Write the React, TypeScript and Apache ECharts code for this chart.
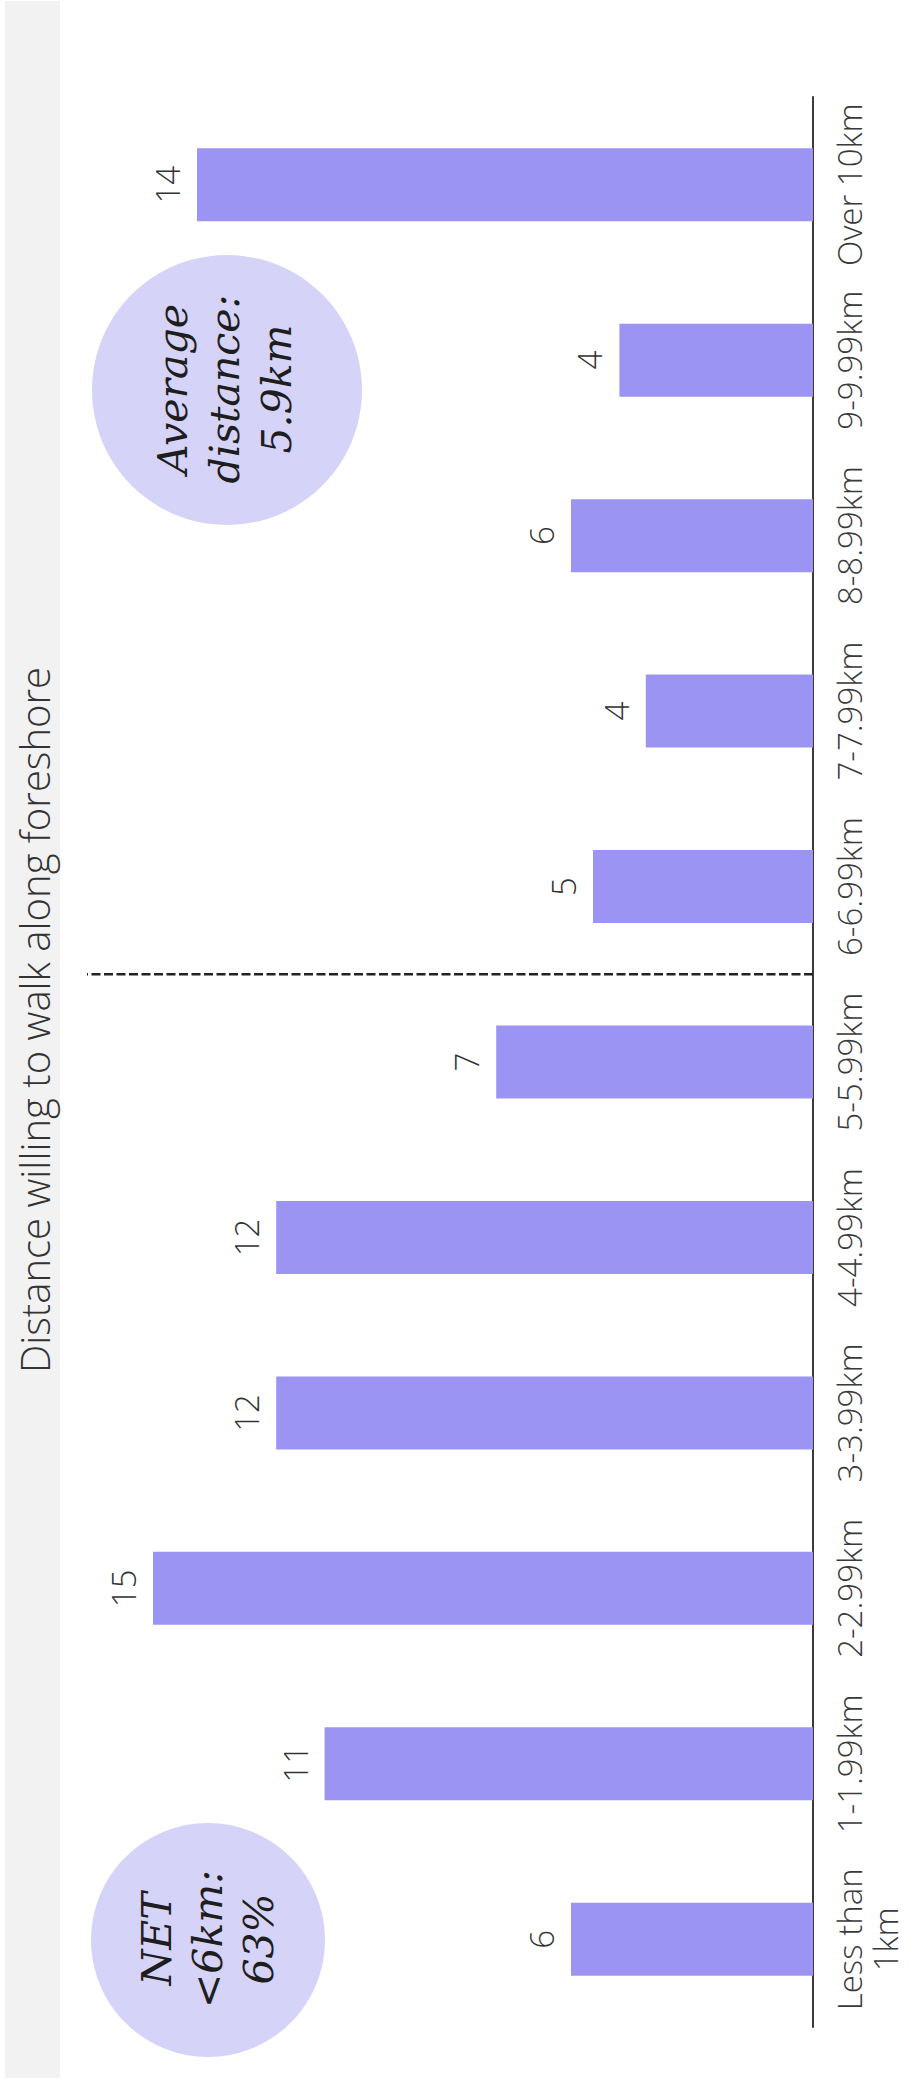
import React, { useEffect, useRef } from "react";
import * as echarts from "echarts";

// Categories listed bottom-to-top (as they appear in the rotated chart)
const categories = [
  "Less than\n1km",
  "1-1.99km",
  "2-2.99km",
  "3-3.99km",
  "4-4.99km",
  "5-5.99km",
  "6-6.99km",
  "7-7.99km",
  "8-8.99km",
  "9-9.99km",
  "Over 10km",
];
// Share of respondents (%)
const shares = [5.5, 11.1, 15.0, 12.2, 12.2, 7.2, 5.0, 3.8, 5.5, 4.4, 14.0];
// Reference line between "5-5.99km" and "6-6.99km" (category index position)
const dividerPosition = [5.5];
const valueMax = 16.5;

const titleText = "Distance willing to walk along foreshore";
const averageText = "Average\ndistance:\n5.9km";
const netText = "NET\n<6km:\n63%";

const SANS = "'Open Sans', 'DejaVu Sans', sans-serif";
const SERIF = "'DejaVu Serif', serif";

export default function App() {
  const ref = useRef<HTMLDivElement>(null);

  useEffect(() => {
    if (!ref.current) return;
    const chart = echarts.init(ref.current, null, { renderer: "svg" });
    const option: any = {
      animation: false,
      backgroundColor: "#ffffff",
      grid: { left: 87, right: 96, top: 97, bottom: 63, containLabel: false },
      xAxis: [
        { type: "value", inverse: true, min: 0, max: valueMax, show: false },
      ],
      yAxis: [
        {
          type: "category",
          position: "right",
          data: categories,
          axisLine: { show: true, lineStyle: { color: "#3a3a3a", width: 2 } },
          axisTick: { show: false },
          splitLine: { show: false },
          axisLabel: {
            interval: 0,
            rotate: 90,
            margin: 18,
            fontSize: 33,
            lineHeight: 36,
            fontWeight: 300,
            fontFamily: SANS,
            color: "#3a3a3a",
          },
        },
        { type: "value", min: -0.5, max: categories.length - 0.5, show: false },
      ],
      series: [
        {
          type: "bar",
          data: shares,
          barWidth: "41.6%",
          itemStyle: { color: "#9b94f3" },
          label: {
            show: true,
            position: "left",
            distance: 13,
            rotate: 90,
            align: "center",
            verticalAlign: "bottom",
            fontSize: 33,
            fontWeight: 300,
            fontFamily: SANS,
            color: "#333333",
            formatter: (p: any) => String(Math.round(p.value)),
          },
        },
        {
          type: "line",
          xAxisIndex: 0,
          yAxisIndex: 1,
          silent: true,
          symbol: "none",
          data: [
            [0, dividerPosition[0]],
            [valueMax, dividerPosition[0]],
          ],
          lineStyle: { type: [9, 3.5], width: 2.5, color: "#222222" },
        },
      ],
      graphic: [
        {
          type: "rect",
          z: -10,
          shape: { x: 5, y: 1, width: 55, height: 2077 },
          style: { fill: "#f2f2f2" },
        },
        {
          type: "text",
          x: 34,
          y: 1020,
          rotation: Math.PI / 2,
          style: {
            text: titleText,
            fontSize: 40,
            fontWeight: 300,
            fontFamily: SANS,
            fill: "#333333",
            align: "center",
            verticalAlign: "middle",
          },
        },
        {
          type: "circle",
          shape: { cx: 227, cy: 390, r: 135 },
          style: { fill: "#d6d3f9" },
        },
        {
          type: "text",
          x: 225,
          y: 389,
          rotation: Math.PI / 2,
          style: {
            text: averageText,
            fontSize: 41,
            lineHeight: 52,
            fontStyle: "italic",
            fontFamily: SERIF,
            fill: "#1e1e1e",
            align: "center",
            verticalAlign: "middle",
          },
        },
        {
          type: "circle",
          shape: { cx: 208, cy: 1940, r: 117 },
          style: { fill: "#d6d3f9" },
        },
        {
          type: "text",
          x: 208,
          y: 1939,
          rotation: Math.PI / 2,
          style: {
            text: netText,
            fontSize: 41,
            lineHeight: 51,
            fontStyle: "italic",
            fontFamily: SERIF,
            fill: "#1e1e1e",
            align: "center",
            verticalAlign: "middle",
          },
        },
      ],
    };
    chart.setOption(option);
    return () => chart.dispose();
  }, []);

  return (
    <div
      ref={ref}
      style={{ position: "absolute", left: 0, top: 0, width: 909, height: 2090 }}
    />
  );
}
